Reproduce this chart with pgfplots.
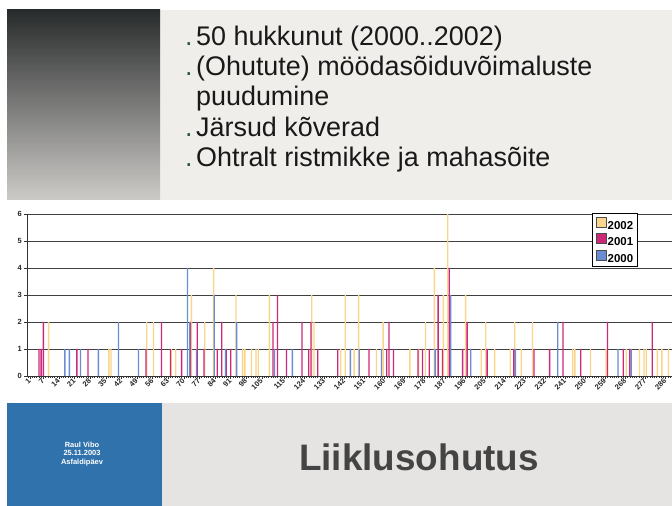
\documentclass[border=0pt]{standalone}
\usepackage{fontspec}
\setmainfont{Liberation Sans}
\usepackage{pgfplots}
\pgfplotsset{compat=1.18}
\definecolor{cY}{RGB}{250,214,140}
\definecolor{cM}{RGB}{204,40,120}
\definecolor{cB}{RGB}{105,140,210}
\definecolor{panel}{RGB}{240,238,235}
\definecolor{panelB}{RGB}{230,228,226}
\definecolor{boxblue}{RGB}{48,114,172}
\definecolor{bul}{RGB}{40,90,80}
\definecolor{titlegray}{RGB}{68,68,68}
\begin{document}
\begin{tikzpicture}[x=1bp,y=1bp]
\clip (0,0) rectangle (672,506);
\fill[white] (0,0) rectangle (672,506);
% top panel
\fill[panel] (7,306) rectangle (672,496);
\shade[top color={rgb,255:red,40;green,43;blue,43}, bottom color={rgb,255:red,205;green,203;blue,200}] (7,306) rectangle (160,496);
\begin{scope}[every node/.style={anchor=base west, inner sep=0pt, font=\fontsize{27}{30}\selectfont, text=black!90}]
\node at (185,460) {\textcolor{bul}{.}};
\node at (196,460) {50 hukkunut (2000..2002)};
\node at (185,430) {\textcolor{bul}{.}};
\node at (196,430) {(Ohutute) möödasõiduvõimaluste};
\node at (196,400) {puudumine};
\node at (185,369) {\textcolor{bul}{.}};
\node at (196,369) {Järsud kõverad};
\node at (185,339) {\textcolor{bul}{.}};
\node at (196,339) {Ohtralt ristmikke ja mahasõite};
\end{scope}
% bottom panel
\fill[panelB] (7,0) rectangle (672,103);
\fill[boxblue] (7,0) rectangle (162,103);
\node[align=center, text=white, font=\fontsize{7.5}{8.6}\bfseries\selectfont, inner sep=0pt] at (82,52) {Raul Vibo\\25.11.2003\\Asfaldipäev};
\node[text=titlegray, font=\fontsize{37}{40}\bfseries\selectfont, inner sep=0pt] at (419,49) {Liiklusohutus};
% chart
\begin{axis}[
  at={(27bp,130bp)}, anchor=south west,
  scale only axis, width=645bp, height=162bp,
  xmin=-0.35, xmax=288.9, ymin=0, ymax=6,
  axis lines*=left,
  axis line style={black!80, line width=0.8bp},
  ytick={0,1,...,6},
  ymajorgrids, major grid style={black!75, line width=0.8bp},
  xtick={1,7,14,21,28,35,42,49,56,63,70,77,84,91,98,105,115,124,133,142,151,160,169,178,187,196,205,214,223,232,241,250,259,268,277,286},
  minor xtick={0,1,...,288},
  tick align=outside, tick pos=left,
  major tick length=3bp, minor tick length=2bp,
  tick style={black!80, line width=0.5bp},
  /pgf/number format/assume math mode=true,
  xticklabel style={font=\fontsize{7.5}{7.5}\bfseries\selectfont, rotate=45, anchor=east, inner sep=0.5bp, text=black!85},
  yticklabel style={font=\fontsize{7.5}{7.5}\bfseries\selectfont, inner sep=2bp, text=black!85},
  legend style={at={(0.876,1.006)}, anchor=north west, draw=black, line width=1bp, fill=white,
    font=\fontsize{11.5}{11.5}\bfseries\selectfont, inner xsep=3bp, inner ysep=3bp, row sep=2.5bp,
    nodes={inner sep=1.5bp, text height=8.5bp, text depth=0pt},
    /tikz/every odd column/.append style={column sep=0bp},
    cells={anchor=west}},
  legend image code/.code={\draw[#1, draw=black!70, line width=0.6bp] (0bp,-2bp) rectangle (10bp,8bp);},
]
\addlegendimage{fill=cY}\addlegendentry{2002}
\addlegendimage{fill=cM}\addlegendentry{2001}
\addlegendimage{fill=cB}\addlegendentry{2000}
% 2002
\addplot[ybar, bar width=0.6, bar shift=-0.65, fill=cY, draw=none, forget plot] coordinates {
(10,2)(37,1)(38,1)(54,2)(57,2)(65,1)(67,1)(74,3)(80,2)(84,4)(94,3)(97,1)(98,1)(101,1)(103,1)(104,1)(109,3)(128,3)(129,2)(141,1)(143,3)(147,1)(149,3)(157,1)(160,2)(172,1)(176,1)(179,2)(183,4)(187,3)(189,6)(197,3)(204,1)(206,2)(210,1)(217,1)(219,2)(222,1)(227,2)(245,1)(246,1)(253,1)(260,1)(269,1)(275,1)(277,1)(278,1)(283,1)(285,1)(288,1)
};
% 2001
\addplot[ybar, bar width=0.6, bar shift=0, fill=cM, draw=none, forget plot] coordinates {
(5,1)(6,1)(7,2)(22,1)(27,1)(53,1)(60,2)(64,1)(69,1)(73,2)(76,2)(79,1)(85,1)(87,2)(89,1)(91,1)(110,2)(112,3)(116,1)(123,2)(126,1)(127,2)(130,1)(139,1)(153,1)(161,1)(162,2)(164,1)(175,1)(177,1)(180,1)(184,3)(186,1)(189,4)(195,1)(197,2)(206,1)(218,1)(227,1)(234,1)(240,2)(248,1)(260,2)(267,1)(270,1)(280,2)
};
% 2000
\addplot[ybar, bar width=0.6, bar shift=0.65, fill=cB, draw=none, forget plot] coordinates {
(16,1)(18,1)(23,1)(31,1)(40,2)(49,1)(71,4)(72,2)(75,1)(83,3)(88,1)(93,2)(110,1)(118,1)(144,1)(148,1)(158,1)(182,1)(189,3)(198,1)(218,1)(237,2)(264,1)(270,1)
};
\end{axis}
\end{tikzpicture}
\end{document}
